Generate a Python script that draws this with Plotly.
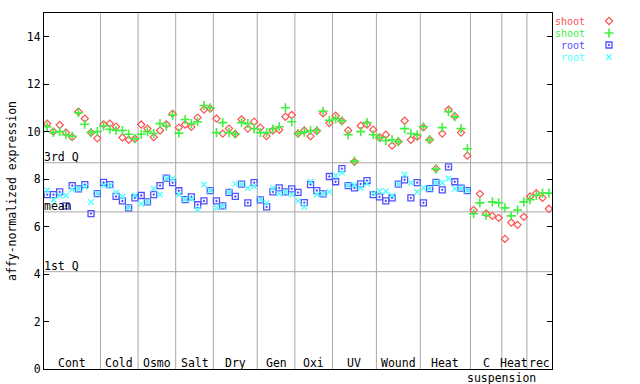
import plotly.graph_objects as go

# ---- data ----
group_labels = ["Cont", "Cold", "Osmo", "Salt", "Dry", "Gen", "Oxi", "UV", "Wound", "Heat", "C", "Heat", "rec"]
group_sizes = [9, 6, 6, 6, 7, 6, 6, 7, 7, 8, 5, 4, 4]
sub_label = "suspension"

shoot_red = [10.34, 10.0, 10.28, 9.96, 9.77, 10.84, 10.55, 9.96, 9.72, 10.31, 10.34, 10.21, 9.75, 9.66, 9.70, 10.30,
             10.13, 9.77, 10.05, 10.31, 10.76, 10.17, 10.30, 10.20, 10.59, 10.93, 10.97, 10.55, 9.92, 10.13, 9.90, 10.52, 10.13,
             10.42, 10.17, 9.81, 10.05, 10.08, 10.63, 10.70, 9.92, 10.05, 9.81, 10.03, 10.77, 10.36, 10.67, 10.45, 10.05,
             8.73, 10.25, 10.30, 10.08, 9.75, 9.87, 9.41, 9.58, 10.46, 9.66, 9.79, 10.18, 9.66, 8.44, 9.92, 10.93,
             10.65, 9.96, 8.99, 6.70, 7.38, 6.55, 6.45, 6.37, 5.48, 6.17, 6.07, 6.41, 7.27, 7.41, 7.21, 6.75]
shoot_green = [10.21, 9.97, 10.0, 9.87, 9.81, 10.80, 10.31, 9.96, 10.01, 10.24, 10.10, 10.05, 10.05, 9.89, 9.70, 9.89,
               10.0, 9.92, 10.34, 10.24, 10.69, 9.94, 10.51, 10.34, 10.42, 11.10, 11.01, 9.96, 10.38, 9.96, 9.90, 10.38, 10.34,
               10.13, 9.96, 9.96, 10.11, 10.21, 11.01, 10.42, 9.92, 9.98, 10.05, 10.05, 10.86, 10.48, 10.55, 10.46, 9.87,
               8.76, 10.0, 10.38, 9.87, 9.75, 9.62, 9.66, 9.58, 10.13, 9.92, 9.87, 10.21, 9.66, 8.42, 10.17, 10.84,
               10.63, 10.13, 9.28, 6.54, 7.00, 6.48, 7.04, 7.00, 6.79, 6.45, 6.70, 7.04, 7.13, 7.31, 7.41, 7.41]
root_blue = [7.35, 7.35, 7.46, 6.87, 7.73, 7.59, 7.77, 6.55, 7.39, 7.86, 7.77, 7.27, 7.08, 6.79, 7.21, 7.31,
             7.04, 7.35, 7.73, 8.04, 7.85, 7.51, 7.14, 7.25, 6.92, 7.08, 7.52, 7.08, 6.87, 7.44, 7.27, 7.79, 7.00,
             7.85, 7.13, 6.83, 7.46, 7.63, 7.46, 7.59, 7.44, 7.01, 7.77, 7.52, 7.38, 8.11, 7.89, 8.44, 7.73,
             7.63, 7.80, 7.94, 7.35, 7.25, 7.08, 7.21, 7.79, 7.97, 7.21, 7.85, 7.00, 7.60, 7.86, 7.55, 8.52,
             7.89, 7.62, 7.52] + [None] * 13
root_cyan = [7.53, 7.13, 7.31, 7.31, 7.56, 7.59, 7.68, 7.04, 7.39, 7.73, 7.72, 7.44, 7.27, 6.80, 7.31, 6.96,
             7.04, 7.59, 7.35, 8.04, 8.03, 7.35, 7.14, 7.17, 6.73, 7.77, 7.52, 6.79, 6.87, 7.46, 7.80, 7.79, 7.63,
             7.69, 7.13, 7.00, 7.63, 7.38, 7.46, 7.35, 7.08, 6.83, 7.89, 7.35, 7.38, 7.46, 8.15, 8.27, 7.73,
             7.75, 7.63, 7.80, 7.40, 7.49, 7.49, 7.31, 7.79, 8.20, 7.85, 7.46, 7.63, 7.60, 7.86, 7.85, 8.03,
             7.59, 7.62, 7.52] + [None] * 13

ref_names = ["3rd Q", "mean", "1st Q"]
ref_values = [8.69, 6.62, 4.10]

series_names = ["shoot", "shoot", "root", "root"]
series_data = [shoot_red, shoot_green, root_blue, root_cyan]

# ---- styles ----
FONT = "DejaVu Sans Mono"
colors = ["#ff5050", "#40f040", "#5050ff", "#50ffff"]
symbols = ["diamond-open", "cross-thin-open", "square-open-dot", "x-thin-open"]
sizes = [5.5, 6.5, 6, 5.5]
widths = [1.2, 1.6, 1.3, 1.4]
GRID = "#a8a8a8"

n = sum(group_sizes)
xs = list(range(1, n + 1))

fig = go.Figure()
for name, vals, c, s, sz, w in zip(series_names, series_data, colors, symbols, sizes, widths):
    fig.add_trace(go.Scatter(x=xs, y=vals, mode="markers", name=name, showlegend=False,
                             marker=dict(symbol=s, size=sz, color=c, line=dict(color=c, width=w))))

# custom legend (text then marker), on an auxiliary axis pair
legend_y = [21, 33, 45, 57]
legend_ann = []
for name, c, s, sz, w, ly in zip(series_names, colors, symbols, sizes, widths, legend_y):
    fig.add_trace(go.Scatter(x=[609], y=[ly], mode="markers", xaxis="x2", yaxis="y2", showlegend=False,
                             marker=dict(symbol=s, size=sz, color=c, line=dict(color=c, width=w))))
    legend_ann.append(dict(x=586, y=ly, xref="x2", yref="y2", text=name, showarrow=False,
                           xanchor="right", yanchor="middle", borderpad=0,
                           font=dict(family=FONT, size=10, color=c)))

shapes = []
edge = 0.5
bounds = []
for gs in group_sizes:
    bounds.append((edge, edge + gs))
    edge += gs
for (a, b) in bounds[:-1]:
    shapes.append(dict(type="line", xref="x", yref="y", x0=b, x1=b, y0=0, y1=15,
                       line=dict(color=GRID, width=1), layer="below"))
for v in ref_values:
    shapes.append(dict(type="line", xref="x", yref="y", x0=0.5, x1=n + 0.5, y0=v, y1=v,
                       line=dict(color=GRID, width=1), layer="below"))

annotations = list(legend_ann)
for name, v in zip(ref_names, ref_values):
    annotations.append(dict(x=0.5, y=v, xref="x", yref="y", text=name, showarrow=False,
                            xanchor="left", yanchor="bottom", xshift=-1, yshift=-2, borderpad=0,
                            font=dict(family=FONT, size=11.5, color="black")))
for lab, (a, b) in zip(group_labels, bounds):
    annotations.append(dict(x=(a + b) / 2, y=0, xref="x", yref="paper", text=lab, showarrow=False,
                            xanchor="center", yanchor="bottom", yshift=-2, borderpad=0,
                            font=dict(family=FONT, size=11.5, color="black")))
c_idx = group_labels.index("C")
a, b = bounds[c_idx]
annotations.append(dict(x=b, y=0, xref="x", yref="paper", text=sub_label, showarrow=False,
                        xanchor="center", yanchor="top", yshift=-1, borderpad=0,
                        font=dict(family=FONT, size=11.5, color="black")))

W, H = 640, 384
ml, mr, mt, mb = 44, 8, 13, 15
plot_w = W - ml - mr
main_right = (552 - ml) / plot_w

fig.update_layout(
    width=W, height=H,
    margin=dict(l=ml, r=mr, t=mt, b=mb),
    paper_bgcolor="white", plot_bgcolor="white",
    font=dict(family=FONT, size=11.5, color="black"),
    shapes=shapes, annotations=annotations,
    xaxis=dict(domain=[0, main_right], range=[0.5, n + 0.5], showgrid=False, zeroline=False,
               showticklabels=False, ticks="", showline=True, mirror=True, linecolor="black", linewidth=1),
    yaxis=dict(range=[0, 15], tickvals=list(range(0, 15, 2)), showgrid=False, zeroline=False,
               ticks="inside", ticklen=5, tickcolor="black", showline=True, mirror="ticks",
               linecolor="black", linewidth=1,
               tickfont=dict(family=FONT, size=11.5),
               title=dict(text="affy-normalized expression", standoff=7,
                          font=dict(family=FONT, size=11.5))),
    xaxis2=dict(domain=[main_right, 1], range=[552, W - mr], visible=False, anchor="y2"),
    yaxis2=dict(domain=[0, 1], range=[H - mb, mt], visible=False, anchor="x2"),
)

fig.write_html("out.html", config={"displayModeBar": False},
               post_script="document.body.style.margin='0';document.body.style.overflow='hidden';")
